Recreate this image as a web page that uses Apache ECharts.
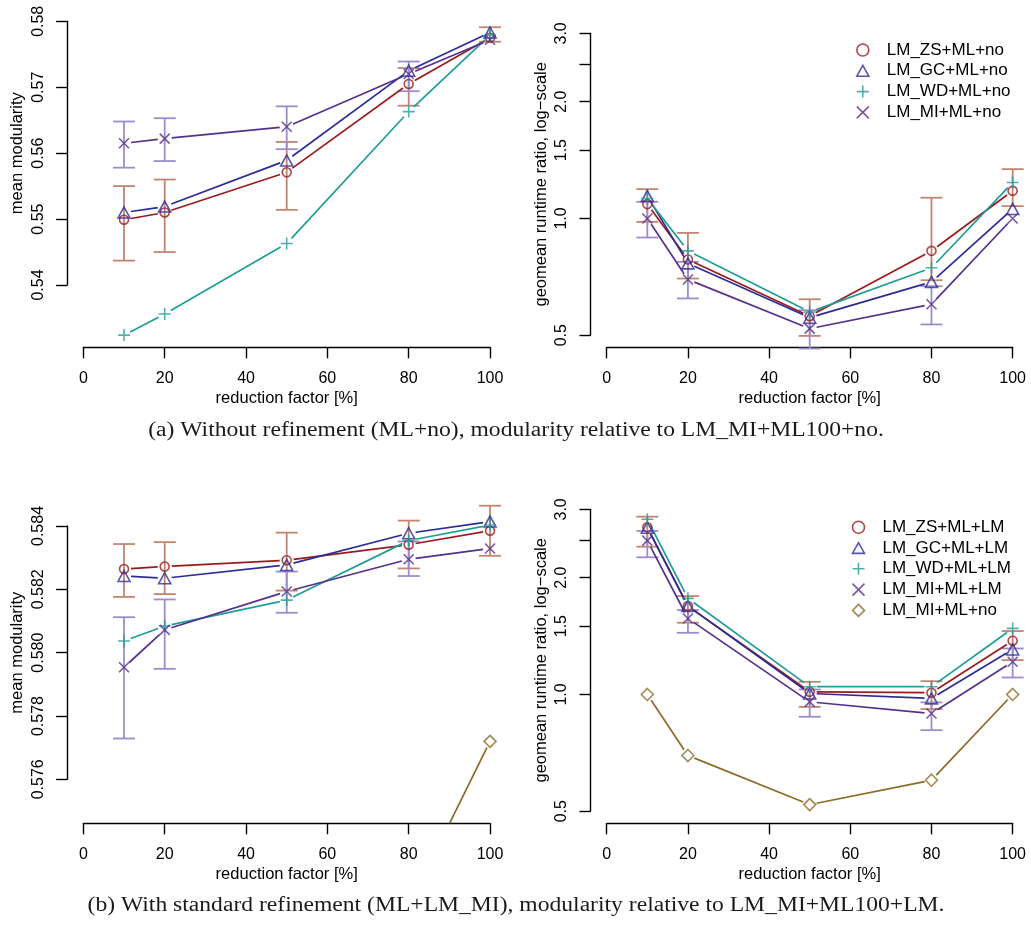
<!DOCTYPE html>
<html><head><meta charset="utf-8">
<script src="https://cdn.jsdelivr.net/npm/echarts@6/dist/echarts.min.js"></script>
<style>html,body{margin:0;padding:0;background:#fff}#c{width:1031px;height:925px}</style>
</head><body><div id="c"></div>
<script>
// ---------------- data ----------------
const reduction = [10, 20, 50, 80, 100];
const xTickValues = [0, 20, 40, 60, 80, 100];
const modTicksA = [0.54, 0.55, 0.56, 0.57, 0.58];
const modTicksB = [0.576, 0.578, 0.580, 0.582, 0.584];
const rtTicks = [0.5, 1.0, 1.5, 2.0, 2.5, 3.0];
const rtTickLabels = [0.5, 1.0, 1.5, 2.0, 3.0];

const namesA = ['LM_ZS+ML+no', 'LM_GC+ML+no', 'LM_WD+ML+no', 'LM_MI+ML+no'];
const namesB = ['LM_ZS+ML+LM', 'LM_GC+ML+LM', 'LM_WD+ML+LM', 'LM_MI+ML+LM', 'LM_MI+ML+no'];

// (a) without refinement – mean modularity
const modA_ZS    = [0.5499, 0.5510, 0.5571, 0.5705, 0.5775];
const modA_ZS_lo = [0.5437, 0.5450, 0.5514, 0.5672, 0.5769];
const modA_ZS_hi = [0.5550, 0.5560, 0.5617, 0.5729, 0.5791];
const modA_GC    = [0.5510, 0.5519, 0.5589, 0.5725, 0.5783];
const modA_WD    = [0.5324, 0.5356, 0.5463, 0.5663, 0.5779];
const modA_MI    = [0.5615, 0.5622, 0.5640, 0.5720, 0.5772];
const modA_MI_lo = [0.5578, 0.5588, 0.5606, 0.5694, null];
const modA_MI_hi = [0.5648, 0.5653, 0.5671, 0.5739, null];

// (a) without refinement – geomean runtime ratio
const rtA_ZS    = [1.089, 0.784, 0.560, 0.825, 1.178];
const rtA_ZS_lo = [0.980, 0.700, 0.498, 0.693, 1.076];
const rtA_ZS_hi = [1.190, 0.918, 0.619, 1.131, 1.340];
const rtA_GC    = [1.142, 0.766, 0.555, 0.686, 1.058];
const rtA_WD    = [1.126, 0.825, 0.574, 0.746, 1.238];
const rtA_MI    = [1.000, 0.696, 0.520, 0.601, 1.000];
const rtA_MI_lo = [0.893, 0.622, 0.462, 0.533, null];
const rtA_MI_hi = [1.104, 0.773, 0.580, 0.669, null];

// (b) standard refinement – mean modularity
const modB_ZS    = [0.58264, 0.58272, 0.58292, 0.58341, 0.58385];
const modB_ZS_lo = [0.58176, 0.58185, 0.58196, 0.58266, 0.58306];
const modB_ZS_hi = [0.58343, 0.58349, 0.58379, 0.58417, 0.58464];
const modB_GC    = [0.58242, 0.58235, 0.58277, 0.58377, 0.58414];
const modB_WD    = [0.58037, 0.58084, 0.58166, 0.58354, 0.58403];
const modB_MI    = [0.57954, 0.58072, 0.58193, 0.58295, 0.58329];
const modB_MI_lo = [0.57729, 0.57949, 0.58126, 0.58242, null];
const modB_MI_hi = [0.58112, 0.58168, 0.58256, 0.58351, null];

// (b) standard refinement – geomean runtime ratio
const rtB_ZS    = [2.697, 1.690, 1.016, 1.010, 1.376];
const rtB_ZS_lo = [2.404, 1.531, 0.929, 0.917, 1.226];
const rtB_ZS_hi = [2.873, 1.793, 1.078, 1.082, 1.457];
const rtB_GC    = [2.690, 1.690, 1.006, 0.977, 1.306];
const rtB_WD    = [2.828, 1.769, 1.047, 1.047, 1.480];
const rtB_MI    = [2.492, 1.570, 0.957, 0.893, 1.214];
const rtB_MI_lo = [2.257, 1.442, 0.876, 0.809, 1.106];
const rtB_MI_hi = [2.638, 1.650, 1.030, 0.954, 1.314];

// ---------------- styles ----------------
const FONT = '"Liberation Sans", Arial, Helvetica, sans-serif';
const COL = { ZS: '#9a1b1d', GC: '#2c2c98', WD: '#1f9d98', MI: '#55308c', NO: '#8c6a28' };
const ERRCOL = { ZS: '#c28571', MI: '#9d8ccb' };
const SYM = {
  ZS: { symbol: 'path://M10,5A5,5,0,1,1,0,5A5,5,0,1,1,10,5Z', size: 9 },
  GC: { symbol: 'path://M5,0L10,9L0,9Z', size: [12, 11] },
  WD: { symbol: 'path://M5,0L5,10M0,5L10,5', size: 12 },
  MI: { symbol: 'path://M0,0L10,10M10,0L0,10', size: 10 },
  NO: { symbol: 'path://M5,0L10,5L5,10L0,5Z', size: 12 }
};
const L0 = Math.log(0.5), L3 = Math.log(3), LPAD = 0.04 * (L3 - L0);
const panels = [
  { L: 67.1, R: 506.3, T: 21.3, B: 347.3, ymin: 0.53055, ymax: 0.58, ticks: modTicksA, labels: modTicksA, log: false, dec: 2, name: 'mean modularity' },
  { L: 590.5, R: 1028.9, T: 21.3, B: 347.3, ymin: L0 - LPAD, ymax: L3 + LPAD, ticks: rtTicks, labels: rtTickLabels, log: true, dec: 1, name: 'geomean runtime ratio, log\u2212scale' },
  { L: 67.1, R: 506.3, T: 497.3, B: 823.3, ymin: 0.574612, ymax: 0.584906, ticks: modTicksB, labels: modTicksB, log: false, dec: 3, name: 'mean modularity' },
  { L: 590.5, R: 1028.9, T: 497.3, B: 823.3, ymin: L0 - LPAD, ymax: L3 + LPAD, ticks: rtTicks, labels: rtTickLabels, log: true, dec: 1, name: 'geomean runtime ratio, log\u2212scale' }
];

// ---------------- build ----------------
const grids = [], xAxes = [], yAxes = [], series = [];
panels.forEach((p) => {
  const gi = grids.length;
  const W = p.R - p.L, H = p.B - p.T;
  grids.push({ left: p.L, top: p.T, width: W, height: H, show: false, containLabel: false, outerBoundsMode: 'none' });
  xAxes.push({ gridIndex: gi, type: 'value', min: -4, max: 104, show: false });
  yAxes.push({ gridIndex: gi, type: 'value', min: p.ymin, max: p.ymax, show: false });
  const tv = p.ticks.map(v => p.log ? Math.log(v) : v);
  const lv = p.labels.map(v => p.log ? Math.log(v) : v);
  const tmin = tv[0], tmax = tv[tv.length - 1];
  const ax0 = p.L + 4 / 108 * W, ax1 = p.L + 104 / 108 * W;
  const ayTop = p.T + (p.ymax - tmax) / (p.ymax - p.ymin) * H;
  const ayBot = p.T + (p.ymax - tmin) / (p.ymax - p.ymin) * H;
  grids.push({ left: ax0, top: ayTop, width: ax1 - ax0, height: ayBot - ayTop, show: false, containLabel: false, outerBoundsMode: 'none' });
  const axLine = { show: true, onZero: false, lineStyle: { color: '#000', width: 1.4 } };
  xAxes.push({
    gridIndex: gi + 1, type: 'value', min: 0, max: 100, offset: p.B - ayBot, position: 'bottom',
    axisLine: axLine,
    axisTick: { show: true, length: 11, lineStyle: { color: '#000', width: 1.4 }, customValues: xTickValues },
    axisLabel: { margin: 23, fontSize: 16, color: '#000', fontFamily: FONT, customValues: xTickValues },
    splitLine: { show: false },
    name: 'reduction factor [%]', nameLocation: 'middle', nameGap: 43,
    nameTextStyle: { fontSize: 16.5, color: '#000', fontFamily: FONT }
  });
  yAxes.push({
    gridIndex: gi + 1, type: 'value', min: tmin, max: tmax, offset: ax0 - p.L, position: 'left',
    axisLine: axLine,
    axisTick: { show: true, length: 11, lineStyle: { color: '#000', width: 1.4 }, customValues: tv },
    axisLabel: {
      margin: 21, rotate: 90, fontSize: 16, color: '#000', fontFamily: FONT, customValues: lv,
      formatter: v => (p.log ? Math.exp(v) : v).toFixed(p.dec)
    },
    splitLine: { show: false },
    name: p.name, nameLocation: 'middle', nameGap: 41,
    nameTextStyle: { fontSize: 16.5, color: '#000', fontFamily: FONT }
  });
});

function tf(v, isLog) { return v == null ? null : (isLog ? Math.log(v) : v); }

function addErr(pi, lo, hi, color, isLog) {
  const gi = pi * 2;
  const d = [];
  reduction.forEach((x, i) => { if (lo[i] != null) d.push([x, tf(lo[i], isLog), tf(hi[i], isLog)]); });
  series.push({
    type: 'custom', xAxisIndex: gi, yAxisIndex: gi, clip: false, silent: true, z: 2, data: d,
    renderItem: (params, api) => {
      const a = api.coord([api.value(0), api.value(1)]);
      const b = api.coord([api.value(0), api.value(2)]);
      const w = 11, st = { stroke: color, lineWidth: 1.8 };
      return { type: 'group', children: [
        { type: 'line', shape: { x1: a[0], y1: a[1], x2: b[0], y2: b[1] }, style: st },
        { type: 'line', shape: { x1: a[0] - w, y1: a[1], x2: a[0] + w, y2: a[1] }, style: st },
        { type: 'line', shape: { x1: b[0] - w, y1: b[1], x2: b[0] + w, y2: b[1] }, style: st }
      ] };
    }
  });
}

function addLine(pi, name, ys, key, isLog) {
  const gi = pi * 2;
  const color = COL[key];
  const pts = reduction.map((x, i) => [x, tf(ys[i], isLog)]);
  const segs = [];
  for (let i = 0; i < pts.length - 1; i++) segs.push([pts[i][0], pts[i][1], pts[i + 1][0], pts[i + 1][1]]);
  series.push({
    type: 'custom', xAxisIndex: gi, yAxisIndex: gi, clip: true, silent: true, z: 3, data: segs,
    renderItem: (params, api) => {
      const a = api.coord([api.value(0), api.value(1)]);
      const b = api.coord([api.value(2), api.value(3)]);
      const dx = b[0] - a[0], dy = b[1] - a[1], len = Math.hypot(dx, dy), g = 7;
      if (len <= 2 * g) return null;
      const ux = dx / len, uy = dy / len;
      return { type: 'line', shape: { x1: a[0] + ux * g, y1: a[1] + uy * g, x2: b[0] - ux * g, y2: b[1] - uy * g },
               style: { stroke: color, lineWidth: 1.7 } };
    }
  });
  series.push({
    type: 'scatter', name: name, xAxisIndex: gi, yAxisIndex: gi, data: pts, clip: true, silent: true, z: 4,
    symbol: SYM[key].symbol, symbolSize: SYM[key].size,
    itemStyle: { color: 'rgba(0,0,0,0)', borderColor: color, borderWidth: 1.6 }
  });
}

// panel (a) modularity
addErr(0, modA_ZS_lo, modA_ZS_hi, ERRCOL.ZS, false);
addErr(0, modA_MI_lo, modA_MI_hi, ERRCOL.MI, false);
addLine(0, namesA[0], modA_ZS, 'ZS', false);
addLine(0, namesA[1], modA_GC, 'GC', false);
addLine(0, namesA[2], modA_WD, 'WD', false);
addLine(0, namesA[3], modA_MI, 'MI', false);
// panel (a) runtime
addErr(1, rtA_ZS_lo, rtA_ZS_hi, ERRCOL.ZS, true);
addErr(1, rtA_MI_lo, rtA_MI_hi, ERRCOL.MI, true);
addLine(1, namesA[0], rtA_ZS, 'ZS', true);
addLine(1, namesA[1], rtA_GC, 'GC', true);
addLine(1, namesA[2], rtA_WD, 'WD', true);
addLine(1, namesA[3], rtA_MI, 'MI', true);
// panel (b) modularity
addErr(2, modB_ZS_lo, modB_ZS_hi, ERRCOL.ZS, false);
addErr(2, modB_MI_lo, modB_MI_hi, ERRCOL.MI, false);
addLine(2, namesB[0], modB_ZS, 'ZS', false);
addLine(2, namesB[1], modB_GC, 'GC', false);
addLine(2, namesB[2], modB_WD, 'WD', false);
addLine(2, namesB[3], modB_MI, 'MI', false);
addLine(2, namesB[4] + ' ', modA_MI, 'NO', false);
// panel (b) runtime
addErr(3, rtB_ZS_lo, rtB_ZS_hi, ERRCOL.ZS, true);
addErr(3, rtB_MI_lo, rtB_MI_hi, ERRCOL.MI, true);
addLine(3, namesB[0], rtB_ZS, 'ZS', true);
addLine(3, namesB[1], rtB_GC, 'GC', true);
addLine(3, namesB[2], rtB_WD, 'WD', true);
addLine(3, namesB[3], rtB_MI, 'MI', true);
addLine(3, namesB[4] + ' ', rtA_MI, 'NO', true);

const legendCommon = {
  orient: 'vertical', padding: 0, itemGap: 0, itemWidth: 12, itemHeight: 12,
  selectedMode: false,
  itemStyle: { borderWidth: 1.6 },
  textStyle: { fontSize: 17, color: '#000', fontFamily: FONT, lineHeight: 20.8, padding: [0, 0, 0, 13] },
  formatter: n => n.trim()
};

const CAPFONT = '20px "Liberation Serif", "Times New Roman", serif';
const option = {
  animation: false,
  backgroundColor: '#fff',
  grid: grids, xAxis: xAxes, yAxis: yAxes, series: series,
  legend: [
    Object.assign({}, legendCommon, { left: 856, top: 39.6, data: namesA }),
    Object.assign({}, legendCommon, { left: 851.7, top: 516.8, data: namesB.slice(0, 4).concat([namesB[4] + ' ']) })
  ],
  graphic: [
    { type: 'text', x: 516, y: 431, scaleX: 1.18, style: { text: '(a) Without refinement (ML+no), modularity relative to LM_MI+ML100+no.',
      textAlign: 'center', textVerticalAlign: 'middle', font: CAPFONT, fill: '#1a1a1a' } },
    { type: 'text', x: 516, y: 906, scaleX: 1.18, style: { text: '(b) With standard refinement (ML+LM_MI), modularity relative to LM_MI+ML100+LM.',
      textAlign: 'center', textVerticalAlign: 'middle', font: CAPFONT, fill: '#1a1a1a' } }
  ]
};
const chart = echarts.init(document.getElementById('c'), null, { renderer: 'canvas' });
chart.setOption(option);
</script></body></html>
